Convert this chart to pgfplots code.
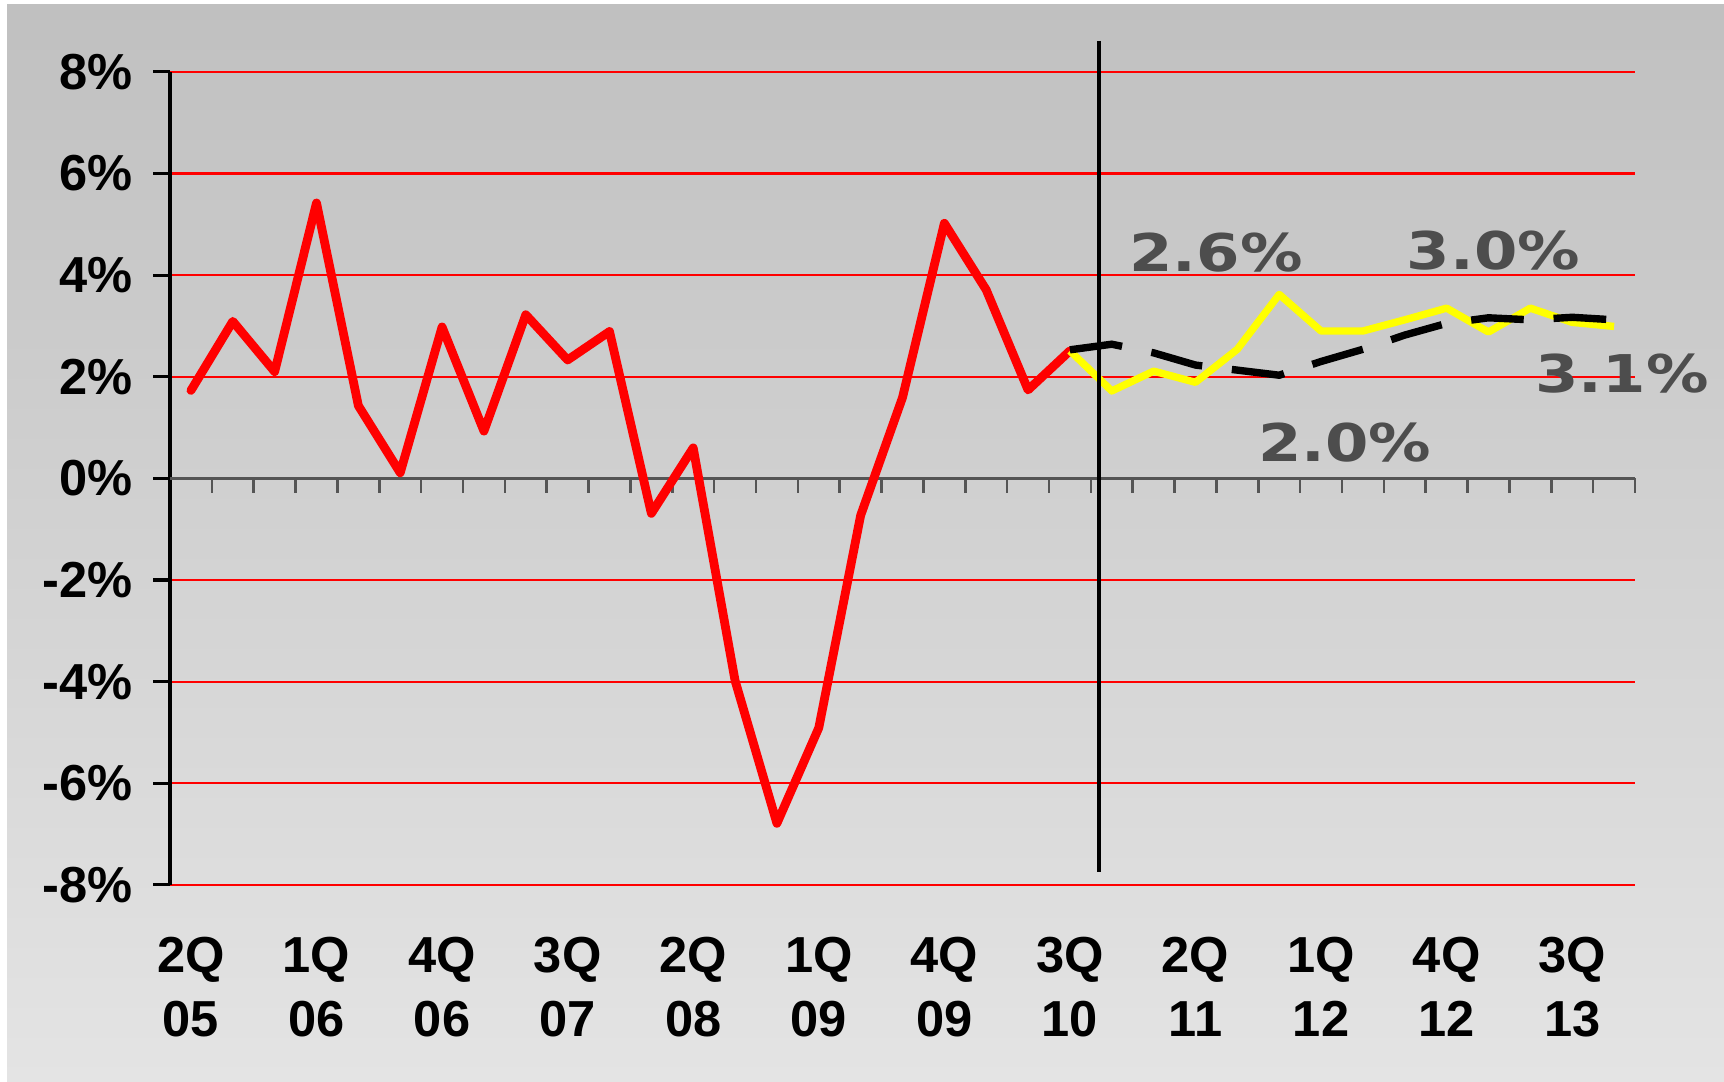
\documentclass[border=0pt]{standalone}
\usepackage{fontspec}
\setmainfont{Liberation Sans}
\newfontfamily\annfont{DejaVu Sans}
\usepackage{graphicx}
\usepackage{pgfplots}
\pgfplotsset{compat=1.18}

\definecolor{gridred}{HTML}{FF0000}
\definecolor{zerogray}{HTML}{555555}
\definecolor{anngray}{HTML}{4D4D4D}
\definecolor{bgtop}{HTML}{C0C0C0}
\definecolor{bgbot}{HTML}{E4E4E4}
\definecolor{fcyellow}{HTML}{FFFF00}

\newcommand{\ticklab}{\fontsize{14.4}{18.2}\selectfont\bfseries}
\newcommand{\ann}[1]{\scalebox{1.2}[1]{\annfont\bfseries\fontsize{14.8}{16}\selectfont #1}}

% quarterly growth, 2Q05 = 0 ... 4Q13 = 34
\pgfplotstableread{
k v
0 1.73
1 3.09
2 2.10
3 5.42
4 1.43
5 0.11
6 2.98
7 0.93
8 3.22
9 2.33
10 2.89
11 -0.69
12 0.60
13 -3.98
14 -6.79
15 -4.91
16 -0.73
17 1.59
18 5.02
19 3.71
20 1.74
21 2.51
}\actual
\pgfplotstableread{
k v
21 2.51
22 1.72
23 2.11
24 1.89
25 2.54
26 3.62
27 2.90
28 2.90
29 3.12
30 3.35
31 2.88
32 3.35
33 3.07
34 2.99
}\forecast
\pgfplotstableread{
k v
21 2.53
22 2.64
23 2.47
24 2.23
25 2.13
26 2.03
27 2.30
28 2.54
29 2.82
30 3.05
31 3.16
32 3.12
33 3.17
34 3.12
}\trend

\begin{document}
\begin{tikzpicture}
\fill[white] (0,0) rectangle (490.5pt,307.8pt);
\shade[top color=bgtop, bottom color=bgbot] (2pt,0) rectangle (490.5pt,306.4pt);
\begin{axis}[
  at={(48.37pt,56.05pt)}, anchor=south west,
  scale only axis, width=416.8pt, height=231.3pt,
  xmin=-0.5, xmax=34.5, ymin=-8, ymax=8,
  axis x line*=bottom, axis y line*=left,
  x axis line style={draw=none},
  y axis line style={black, line width=0.9pt},
  xtick={0,3,...,33},
  xticklabels={{2Q\\05},{1Q\\06},{4Q\\06},{3Q\\07},{2Q\\08},{1Q\\09},{4Q\\09},{3Q\\10},{2Q\\11},{1Q\\12},{4Q\\12},{3Q\\13}},
  xtick style={draw=none},
  ytick={-8,-6,...,8},
  yticklabels={-8\%,-6\%,-4\%,-2\%,0\%,2\%,4\%,6\%,8\%},
  ytick style={black, line width=0.9pt},
  tick align=outside,
  major tick length=4.8pt,
  ymajorgrids, grid style={gridred, line width=0.6pt},
  tick label style={font=\ticklab},
  xticklabel style={align=center, yshift=-6.5pt},
  yticklabel style={xshift=-2.3pt},
  clip=false,
]
\draw[zerogray, line width=0.9pt] (axis cs:-0.5,0) -- (axis cs:34.5,0);
\pgfplotsinvokeforeach{1,...,35}{
  \draw[zerogray, line width=0.75pt] (axis cs:#1-0.5,0) -- ++(0pt,-4.3pt);
}
\addplot[red, line width=2.5pt, line join=round, line cap=round] table[x=k, y=v] {\actual};
\addplot[fcyellow, line width=2.1pt, line join=round] table[x=k, y=v] {\forecast};
\addplot[black, line width=2.1pt, dash pattern=on 15pt off 8.5pt] table[x=k, y=v] {\trend};
\addplot[black, line width=1.1pt] coordinates {(21.69,8.61) (21.69,-7.75)};
\node[anngray] at (axis cs:24.49,4.45) {\ann{2.6\%}};
\node[anngray] at (axis cs:31.12,4.48) {\ann{3.0\%}};
\node[anngray] at (axis cs:34.19,2.06) {\ann{3.1\%}};
\node[anngray] at (axis cs:27.57,0.70) {\ann{2.0\%}};
\end{axis}
\pgfresetboundingbox
\path[use as bounding box] (0,0) rectangle (490.5pt,307.8pt);
\end{tikzpicture}
\end{document}
